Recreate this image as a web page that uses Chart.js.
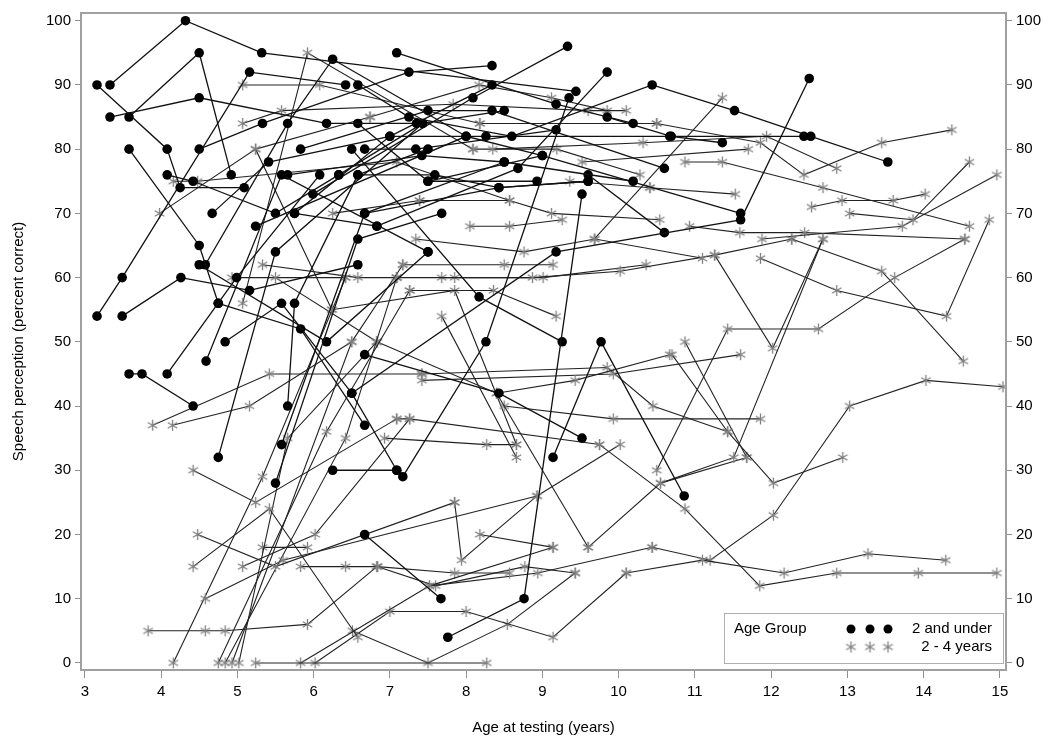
<!DOCTYPE html>
<html>
<head>
<meta charset="utf-8">
<script src="https://cdn.jsdelivr.net/npm/chart.js@4.4.1/dist/chart.umd.min.js"></script>
<style>
  html, body { margin: 0; background: #fff; }
</style>
</head>
<body>
<canvas id="chart" width="1050" height="746"></canvas>
<script>
// tick labels
const xTicks = [3, 4, 5, 6, 7, 8, 9, 10, 11, 12, 13, 14, 15];
const yTicks = [0, 10, 20, 30, 40, 50, 60, 70, 80, 90, 100];
const groupNames = ['2 and under', '2 - 4 years'];

// each child: [age at testing, percent correct] per visit
const under2 = [
  [[3.33, 90], [4.32, 100], [5.32, 95], [9.44, 89]],
  [[3.16, 90], [4.08, 80], [4.25, 74], [5.09, 74]],
  [[3.58, 85], [4.5, 95], [4.92, 76]],
  [[3.33, 85], [4.5, 88], [6.17, 84], [7.35, 84]],
  [[3.16, 54], [3.49, 60], [5.16, 92], [6.42, 90]],
  [[3.49, 54], [4.26, 60], [5.16, 58], [6.58, 62]],
  [[3.58, 45], [3.75, 45], [4.42, 40]],
  [[4.08, 45], [4.99, 60], [6.08, 76]],
  [[3.58, 80], [4.5, 65], [4.75, 56]],
  [[4.5, 80], [5.33, 84], [7.25, 92], [8.34, 93]],
  [[4.67, 70], [5.41, 78], [7.0, 82], [8.34, 90]],
  [[4.58, 62], [5.66, 84], [6.25, 94], [8.0, 82]],
  [[4.59, 47], [5.58, 76], [7.5, 64]],
  [[4.84, 50], [5.58, 56], [6.5, 42], [7.09, 30]],
  [[4.75, 56], [5.83, 52], [6.67, 37]],
  [[5.66, 40], [5.75, 56], [6.58, 76], [7.5, 80]],
  [[5.58, 34], [6.67, 70], [8.5, 78]],
  [[5.5, 28], [6.58, 66], [7.68, 70]],
  [[6.25, 30], [7.09, 30]],
  [[6.67, 20], [7.67, 10]],
  [[7.76, 4], [8.76, 10], [9.52, 73]],
  [[7.17, 29], [8.26, 50], [9.35, 88]],
  [[6.5, 80], [8.17, 57], [9.26, 50]],
  [[6.67, 48], [8.43, 42], [9.52, 35]],
  [[9.14, 32], [9.77, 50], [10.86, 26]],
  [[6.83, 68], [8.68, 77], [9.85, 92]],
  [[7.09, 95], [9.18, 87], [10.19, 84]],
  [[6.58, 90], [7.25, 85], [8.6, 82], [10.44, 90], [11.52, 86], [12.52, 82], [13.53, 78]],
  [[6.58, 84], [7.5, 75], [8.93, 75]],
  [[6.67, 80], [7.34, 80], [9.18, 83]],
  [[6.33, 76], [7.43, 84], [8.5, 86]],
  [[6.58, 76], [7.59, 76], [8.43, 74], [9.6, 75]],
  [[5.99, 73], [8.09, 88], [9.33, 96]],
  [[5.83, 80], [7.5, 86], [8.34, 86], [10.6, 77]],
  [[5.66, 76], [7.42, 79], [8.5, 78], [10.19, 75]],
  [[5.75, 70], [7.0, 82], [8.26, 82], [10.67, 82], [12.43, 82]],
  [[5.24, 68], [8.0, 82], [9.0, 79], [11.6, 70]],
  [[4.08, 76], [4.42, 75], [5.5, 70], [6.33, 76]],
  [[4.75, 32], [5.5, 64], [7.43, 84]],
  [[4.5, 62], [6.17, 50], [7.5, 64]],
  [[6.5, 42], [9.18, 64], [11.6, 69], [12.5, 91]],
  [[9.85, 85], [10.69, 82], [11.36, 81]],
  [[9.6, 76], [10.6, 67]],
  [[6.67, 70], [8.43, 74], [9.6, 75]],
  [[5.75, 70], [6.83, 68]],
  [[7.5, 75], [9.0, 79]]
];

const twoToFour = [
  [[5.07, 90], [6.08, 90], [8.18, 84]],
  [[5.07, 56], [5.92, 95], [8.09, 80]],
  [[5.07, 84], [5.58, 86], [7.83, 87], [9.6, 86], [10.1, 86]],
  [[4.16, 75], [4.48, 75], [7.09, 78], [8.57, 72]],
  [[3.98, 70], [5.24, 80], [6.24, 55]],
  [[4.15, 37], [5.16, 40], [6.5, 50]],
  [[3.89, 37], [5.42, 45], [7.42, 45]],
  [[4.42, 30], [5.24, 25], [7.09, 38]],
  [[4.48, 20], [5.5, 15], [7.85, 25]],
  [[4.42, 15], [5.42, 24], [6.58, 4]],
  [[4.58, 10], [5.6, 16], [8.93, 26]],
  [[3.83, 5], [4.58, 5], [4.84, 5], [5.92, 6], [6.83, 15]],
  [[4.16, 0], [5.33, 29], [6.42, 60]],
  [[4.75, 0], [6.17, 36], [7.26, 58]],
  [[4.84, 0], [6.42, 35], [7.09, 60]],
  [[4.93, 0], [6.5, 50], [7.17, 62]],
  [[5.02, 0], [5.66, 35], [6.83, 50]],
  [[5.24, 0], [8.27, 0]],
  [[5.83, 0], [7.52, 12], [9.14, 18]],
  [[6.02, 0], [7.0, 8], [8.0, 8], [9.14, 4], [10.1, 14]],
  [[6.51, 5], [7.5, 0], [8.54, 6], [9.43, 14]],
  [[5.33, 18], [5.92, 18]],
  [[5.07, 15], [6.02, 20], [7.26, 38]],
  [[5.83, 15], [6.42, 15], [6.84, 15], [7.85, 14], [8.57, 14]],
  [[7.85, 25], [7.94, 16], [8.93, 26], [10.02, 34]],
  [[8.18, 20], [9.14, 18]],
  [[8.4, 42], [9.6, 18]],
  [[10.1, 14], [11.1, 16], [12.17, 14], [13.27, 17], [14.29, 16]],
  [[10.44, 18], [11.2, 16], [12.03, 23], [13.03, 40], [14.03, 44], [15.04, 43]],
  [[9.75, 34], [10.87, 24], [11.85, 12], [12.86, 14], [13.93, 14], [14.96, 14]],
  [[10.55, 28], [11.51, 32], [12.68, 66]],
  [[10.5, 30], [11.43, 52], [12.62, 52], [13.62, 60], [14.54, 66]],
  [[11.26, 63.5], [12.02, 49], [12.68, 66]],
  [[11.86, 63], [12.86, 58], [14.3, 54], [14.86, 69]],
  [[12.27, 66], [13.45, 61], [14.52, 47]],
  [[10.7, 48], [11.43, 36], [12.03, 28], [12.94, 32]],
  [[10.87, 50], [11.68, 32]],
  [[8.5, 40], [9.93, 38], [11.86, 38]],
  [[6.83, 50], [8.4, 42], [9.43, 44], [10.67, 48]],
  [[7.42, 44], [9.93, 45], [11.6, 48]],
  [[7.42, 45], [9.85, 46], [10.45, 40], [11.43, 36]],
  [[9.68, 66], [11.36, 88]],
  [[8.35, 80], [10.32, 81], [11.94, 82], [12.86, 77]],
  [[10.5, 84], [11.86, 81], [12.43, 76], [13.45, 81], [14.37, 83]],
  [[10.87, 78], [11.36, 78], [12.68, 74], [14.6, 68]],
  [[12.53, 71], [12.93, 72], [13.6, 72], [14.02, 73]],
  [[13.03, 70], [13.86, 69], [14.6, 78]],
  [[11.88, 66], [13.72, 68], [14.96, 76]],
  [[10.93, 68], [11.59, 67], [12.44, 67], [14.54, 66]],
  [[10.41, 74], [11.53, 73]],
  [[6.74, 85], [8.17, 90], [9.12, 88], [9.85, 86]],
  [[8.09, 80], [9.19, 80], [10.28, 76]],
  [[9.52, 78], [11.7, 80]],
  [[9.36, 75], [10.41, 74]],
  [[7.39, 72], [8.57, 72], [9.12, 70], [10.54, 69]],
  [[8.05, 68], [8.57, 68], [9.26, 69]],
  [[7.34, 66], [8.76, 64], [9.69, 66], [11.1, 63]],
  [[7.09, 60], [8.87, 60], [10.02, 61], [11.26, 63.5], [12.27, 66]],
  [[7.17, 62], [8.5, 62], [9.14, 62]],
  [[7.26, 58], [8.36, 58], [9.18, 54]],
  [[6.24, 55], [7.85, 58], [8.66, 34]],
  [[7.68, 54], [8.66, 32]],
  [[7.68, 60], [7.85, 60], [9.01, 60], [10.36, 62]],
  [[6.93, 35], [8.27, 34], [8.66, 34]],
  [[7.09, 38], [7.26, 38], [9.75, 34]],
  [[7.52, 12], [8.94, 14], [10.44, 18]],
  [[9.6, 18], [10.55, 28], [11.68, 32]],
  [[5.33, 62], [6.58, 60], [7.09, 60]],
  [[5.5, 60], [6.83, 50]],
  [[4.93, 60], [6.42, 60]],
  [[6.25, 70], [7.39, 72]],
  [[5.24, 80], [6.74, 85]],
  [[8.18, 84], [10.5, 84]],
  [[6.83, 15], [7.6, 12], [8.77, 15], [9.43, 14]]
];

// six-armed grey asterisk like the original marker
const star = document.createElement('canvas');
star.width = 13;
star.height = 13;
(function () {
  const c = star.getContext('2d');
  c.strokeStyle = '#808080';
  c.lineWidth = 1.3;
  c.beginPath();
  for (let i = 0; i < 3; i++) {
    const a = Math.PI / 2 + i * Math.PI / 3;
    c.moveTo(6.5 + 5.5 * Math.cos(a), 6.5 + 5.5 * Math.sin(a));
    c.lineTo(6.5 - 5.5 * Math.cos(a), 6.5 - 5.5 * Math.sin(a));
  }
  c.stroke();
})();

const toPoints = arr => arr.map(p => ({ x: p[0], y: p[1] }));

const datasets = [];
under2.forEach(s => datasets.push({
  data: toPoints(s),
  showLine: true,
  borderColor: '#111',
  borderWidth: 1.3,
  pointStyle: 'circle',
  pointRadius: 4.8,
  pointBackgroundColor: '#000',
  pointBorderColor: '#000',
  pointBorderWidth: 0
}));
twoToFour.forEach(s => datasets.push({
  data: toPoints(s),
  showLine: true,
  borderColor: '#222',
  borderWidth: 1.1,
  pointStyle: star,
  pointRadius: 6
}));

// frame around the plot + legend box inside the plot
const framePlugin = {
  id: 'frame',
  afterDraw(chart) {
    const { ctx, chartArea: a } = chart;
    ctx.save();
    ctx.strokeStyle = '#a0a0a0';
    ctx.lineWidth = 2;
    ctx.strokeRect(a.left, a.top, a.right - a.left, a.bottom - a.top);

    // legend
    const bx = a.right - 282, by = a.bottom - 57, bw = 279, bh = 50;
    ctx.fillStyle = '#fff';
    ctx.fillRect(bx, by, bw, bh);
    ctx.strokeStyle = '#b0b0b0';
    ctx.lineWidth = 1;
    ctx.strokeRect(bx + 0.5, by + 0.5, bw, bh);

    ctx.font = '15px "Liberation Sans", Arial, sans-serif';
    ctx.fillStyle = '#000';
    ctx.textBaseline = 'middle';
    ctx.textAlign = 'left';
    ctx.fillText('Age Group', bx + 10, by + 16);
    ctx.textAlign = 'right';
    ctx.fillText(groupNames[0], bx + bw - 11, by + 16);
    ctx.fillText(groupNames[1], bx + bw - 11, by + 34);

    [127, 146, 164].forEach(dx => {
      ctx.fillStyle = '#000';
      ctx.beginPath();
      ctx.arc(bx + dx, by + 16, 4.5, 0, Math.PI * 2);
      ctx.fill();
      ctx.drawImage(star, bx + dx - 6.5, by + 34 - 6.5);
    });
    ctx.restore();
  }
};

const font = { family: '"Liberation Sans", Arial, sans-serif', size: 15 };

new Chart(document.getElementById('chart'), {
  type: 'scatter',
  data: { datasets },
  options: {
    responsive: false,
    animation: false,
    layout: { padding: { top: 5, left: 0, right: 0, bottom: 0 } },
    plugins: { legend: { display: false }, tooltip: { enabled: false } },
    scales: {
      x: {
        type: 'linear',
        position: 'bottom',
        min: 2.95,
        max: 15.08,
        afterBuildTicks: s => { s.ticks = xTicks.map(v => ({ value: v })); },
        afterFit: s => { s.height = 76; },
        ticks: { color: '#000', font, padding: 5, autoSkip: false, maxRotation: 0 },
        grid: { drawOnChartArea: false, tickLength: 8, color: '#909090' },
        border: { color: '#a0a0a0', width: 2 },
        title: { display: true, text: 'Age at testing (years)', color: '#000', font, padding: { top: 4, bottom: 9 } }
      },
      y: {
        type: 'linear',
        position: 'left',
        min: -1.1,
        max: 101.2,
        afterBuildTicks: s => { s.ticks = yTicks.map(v => ({ value: v })); },
        afterFit: s => { s.width = 81; },
        ticks: { color: '#000', font, padding: 4 },
        grid: { drawOnChartArea: false, tickLength: 6, color: '#909090' },
        border: { color: '#a0a0a0', width: 2 },
        title: { display: true, text: 'Speech perception (percent correct)', color: '#000', font, padding: { top: 10, bottom: 6 } }
      },
      y2: {
        type: 'linear',
        position: 'right',
        min: -1.1,
        max: 101.2,
        afterBuildTicks: s => { s.ticks = yTicks.map(v => ({ value: v })); },
        afterFit: s => { s.width = 44; },
        ticks: { color: '#000', font, padding: 4 },
        grid: { drawOnChartArea: false, tickLength: 6, color: '#909090' },
        border: { color: '#a0a0a0', width: 2 }
      }
    }
  },
  plugins: [framePlugin]
});
</script>
</body>
</html>
